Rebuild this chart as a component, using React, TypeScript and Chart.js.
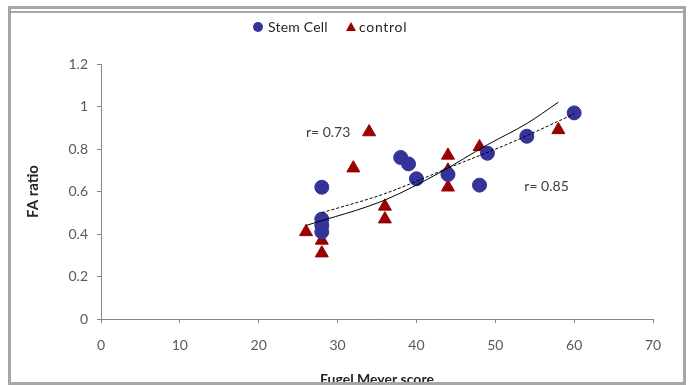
import React, { useEffect, useRef } from "react";
import { Chart, registerables } from "chart.js";
Chart.register(...registerables);

// ---- data ----
const seriesNames = ["Stem Cell", "control"];
const stemX = [28, 28, 28, 28, 38, 39, 40, 44, 48, 49, 54, 60];
const stemY = [0.62, 0.47, 0.44, 0.41, 0.76, 0.73, 0.66, 0.68, 0.63, 0.78, 0.86, 0.97];
const ctrlX = [26, 28, 28, 32, 34, 36, 36, 44, 44, 44, 48, 58];
const ctrlY = [0.41, 0.37, 0.31, 0.71, 0.88, 0.53, 0.47, 0.77, 0.7, 0.62, 0.81, 0.89];
// trend lines
const ctrlTrendX = [26, 36, 43, 49, 54, 58];
const ctrlTrendY = [0.44, 0.56, 0.69, 0.82, 0.92, 1.02];
const stemTrendX = [28, 36, 44, 52, 60];
const stemTrendY = [0.5, 0.59, 0.71, 0.83, 0.965];
// axis ticks
const xTicks = [0, 10, 20, 30, 40, 50, 60, 70];
const xTickLabels = ["0", "10", "20", "30", "40", "50", "60", "70"];
const yTicks = [0, 0.2, 0.4, 0.6, 0.8, 1, 1.2];
const yTickLabels = ["0", "0.2", "0.4", "0.6", "0.8", "1", "1.2"];
// annotations
const rLabels = ["r= 0.73", "r= 0.85"];
const rLabelX = [28.8, 56.5];
const rLabelY = [0.88, 0.625];

const BLUE = "#333399";
const RED = "#990000";
const FONT = "Lato";

const rTextPlugin = {
  id: "rtext",
  afterDatasetsDraw(chart: any) {
    const { ctx, scales } = chart;
    ctx.save();
    ctx.font = `14px ${FONT}`;
    ctx.fillStyle = "#404040";
    ctx.textAlign = "center";
    ctx.textBaseline = "middle";
    rLabels.forEach((t, i) => {
      ctx.fillText(t, scales.x.getPixelForValue(rLabelX[i]), scales.y.getPixelForValue(rLabelY[i]));
    });
    ctx.restore();
  },
};

export default function App() {
  const ref = useRef<HTMLCanvasElement | null>(null);
  useEffect(() => {
    if (!ref.current) return;
    const chart = new Chart(ref.current, {
      type: "scatter",
      data: {
        datasets: [
          {
            label: "control trend",
            data: ctrlTrendX.map((x, i) => ({ x, y: ctrlTrendY[i] })),
            showLine: true,
            borderColor: "#000000",
            borderWidth: 1,
            pointRadius: 0,
            cubicInterpolationMode: "monotone",
          },
          {
            label: "stem trend",
            data: stemTrendX.map((x, i) => ({ x, y: stemTrendY[i] })),
            showLine: true,
            borderColor: "#000000",
            borderWidth: 1,
            borderDash: [3, 2],
            pointRadius: 0,
            cubicInterpolationMode: "monotone",
          },
          {
            label: seriesNames[0],
            data: stemX.map((x, i) => ({ x, y: stemY[i] })),
            backgroundColor: BLUE,
            borderColor: BLUE,
            borderWidth: 1,
            pointRadius: 7,
            pointStyle: "circle",
          },
          {
            label: seriesNames[1],
            data: ctrlX.map((x, i) => ({ x, y: ctrlY[i] })),
            backgroundColor: RED,
            borderColor: RED,
            borderWidth: 1,
            pointRadius: 7.5,
            pointStyle: "triangle",
          },
        ],
      },
      options: {
        animation: false,
        responsive: false,
        layout: { padding: { left: 0, right: 36, top: 64, bottom: 0 } },
        plugins: { legend: { display: false }, tooltip: { enabled: false } },
        scales: {
          x: {
            type: "linear",
            min: 0,
            max: 70,
            afterBuildTicks: (s: any) => {
              s.ticks = xTicks.map((v) => ({ value: v }));
            },
            afterFit: (s: any) => {
              s.height = 66;
            },
            grid: { drawOnChartArea: false, drawTicks: true, tickLength: 4, color: "#868686" },
            border: { display: true, color: "#868686", width: 1 },
            ticks: {
              padding: 14,
              color: "#595959",
              font: { family: FONT, size: 14 },
              maxRotation: 0,
              autoSkip: false,
              callback: (_v: any, i: number) => xTickLabels[i],
            },
            title: {
              display: true,
              text: "Fugel Meyer score",
              color: "#262626",
              font: { family: FONT, size: 14, weight: "bold" },
              padding: { top: 0, bottom: -3 },
            },
          },
          y: {
            type: "linear",
            min: 0,
            max: 1.2,
            afterBuildTicks: (s: any) => {
              s.ticks = yTicks.map((v) => ({ value: v }));
            },
            afterFit: (s: any) => {
              s.width = 101;
            },
            grid: { drawOnChartArea: false, drawTicks: true, tickLength: 4, color: "#868686" },
            border: { display: true, color: "#868686", width: 1 },
            ticks: {
              padding: 9,
              color: "#595959",
              font: { family: FONT, size: 14 },
              autoSkip: false,
              callback: (_v: any, i: number) => yTickLabels[i],
            },
            title: {
              display: true,
              text: "FA ratio",
              color: "#262626",
              font: { family: FONT, size: 15, weight: "bold" },
              padding: { top: 24, bottom: 0 },
            },
          },
        },
      },
      plugins: [rTextPlugin],
    } as any);
    return () => chart.destroy();
  }, []);

  const gray = "#a6a6a6";
  return (
    <div style={{ position: "fixed", left: 0, top: 0, width: 689, height: 385, background: "#fff", overflow: "hidden" }}>
      <canvas ref={ref} width={689} height={385} style={{ position: "absolute", left: 0, top: 0, width: 689, height: 385 }} />
      {/* legend */}
      <div style={{ position: "absolute", left: 253, top: 22, width: 10, height: 10, borderRadius: "50%", background: BLUE }} />
      <span style={{ position: "absolute", left: 268, top: 18, font: `14px ${FONT}`, lineHeight: "17px", color: "#262626", whiteSpace: "nowrap", letterSpacing: "0.2px" }}>
        {seriesNames[0]}
      </span>
      <div style={{ position: "absolute", left: 346, top: 22, width: 0, height: 0, borderLeft: "5px solid transparent", borderRight: "5px solid transparent", borderBottom: `9px solid ${RED}` }} />
      <span style={{ position: "absolute", left: 359, top: 18, font: `14px ${FONT}`, lineHeight: "17px", color: "#262626", whiteSpace: "nowrap", letterSpacing: "0.7px" }}>
        {seriesNames[1]}
      </span>
      {/* frame */}
      <div style={{ position: "absolute", left: 8, top: 6, width: 678, height: 379, border: `3px solid ${gray}`, boxSizing: "border-box", pointerEvents: "none" }} />
      <div style={{ position: "absolute", left: 11, top: 11, width: 672, height: 2, background: gray, pointerEvents: "none" }} />
    </div>
  );
}
